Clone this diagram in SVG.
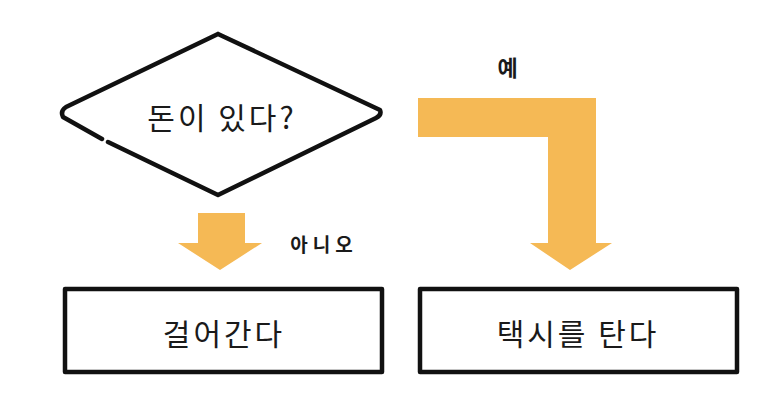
<svg xmlns="http://www.w3.org/2000/svg" width="770" height="411" viewBox="0 0 770 411">
<style>
.shape{fill:#fff;stroke:#111;stroke-width:4.5;stroke-linejoin:round;stroke-linecap:round}
.lbl{font-family:"Noto Sans CJK KR","Noto Sans",sans-serif;fill:#1a1a1a;text-anchor:middle;dominant-baseline:central}
.big{font-size:30px;letter-spacing:3px}
.small{font-size:19px;font-weight:bold;letter-spacing:5px}
.arrow{fill:#F5B955}
</style>
<rect width="770" height="411" fill="#fff"/>
<g id="connectors">
<polygon class="arrow" points="418,98 596,98 596,243 612,243 570,270 530,243 548,243 548,137 418,137"/>
<polygon class="arrow" points="198,213 245,213 245,243 262,243 220,270 178,243 198,243"/>
<text class="lbl small" x="510" y="66" style="font-size:22px">예</text>
<text class="lbl small" x="324" y="243">아니오</text>
</g>
<g id="decision">
<path class="shape" d="M218,34 L380,110 Q382,115 376,118 L218,195 L108,142 M102,139 L63,117 Q60,111 66,107 L218,34"/>
<text class="lbl big" x="222" y="116">돈이 있다?</text>
</g>
<g id="walk">
<rect class="shape" x="65" y="289" width="317" height="83"/>
<text class="lbl big" x="224" y="332">걸어간다</text>
</g>
<g id="taxi">
<rect class="shape" x="420" y="289" width="317" height="83"/>
<text class="lbl big" x="578" y="332">택시를 탄다</text>
</g>
</svg>
